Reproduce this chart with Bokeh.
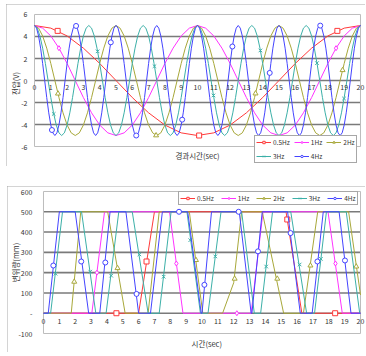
import numpy as np
from bokeh.plotting import figure
from bokeh.layouts import column
from bokeh.models import Range1d, Legend, LegendItem, ColumnDataSource, LabelSet
from bokeh.core.properties import value
from bokeh.embed import file_html
from bokeh.resources import INLINE

FONT = "Noto Sans CJK KR"

series_names = ["0.5Hz", "1Hz", "2Hz", "3Hz", "4Hz"]
colors = ["#ff3a3a", "#ff33ff", "#a8a83a", "#3cb0a8", "#4444ff"]
marker_types = ["square", "diamond", "triangle", "x", "circle"]

x_span = [0, 20]
x_ticks = list(range(0, 21))
x_tick_labels = [str(i) for i in x_ticks]

# ---------------- top chart: voltage (V) vs elapsed time ----------------
top_y_span = [-6, 6]
top_y_ticks = [-6, -4, -2, 0, 2, 4, 6]
top_y_labels = ["-6", "-4", "-2", "0", "2", "4", "6"]
top_grid = [-4, -2, 0, 2, 4]

t_05 = np.linspace(0, 20, 21)
v_05 = [5.0, 4.76, 4.05, 2.94, 1.55, 0.0, -1.55, -2.94, -4.05, -4.76,
        -5.0, -4.76, -4.05, -2.94, -1.55, 0.0, 1.55, 2.94, 4.05, 4.76, 5.0]

t_1 = np.linspace(0, 20, 41)
v_1 = [5.0, 4.76, 4.05, 2.94, 1.55, 0.0, -1.55, -2.94, -4.05, -4.76,
       -5.0, -4.76, -4.05, -2.94, -1.55, 0.0, 1.55, 2.94, 4.05, 4.76,
       5.0, 4.76, 4.05, 2.94, 1.55, 0.0, -1.55, -2.94, -4.05, -4.76,
       -5.0, -4.76, -4.05, -2.94, -1.55, 0.0, 1.55, 2.94, 4.05, 4.76, 5.0]

t_2 = np.linspace(0, 20, 81)
v_2 = [5.0, 4.76, 4.05, 2.94, 1.55, 0.0, -1.55, -2.94, -4.05, -4.76,
       -5.0, -4.76, -4.05, -2.94, -1.55, 0.0, 1.55, 2.94, 4.05, 4.76,
       5.0, 4.76, 4.05, 2.94, 1.55, 0.0, -1.55, -2.94, -4.05, -4.76,
       -5.0, -4.76, -4.05, -2.94, -1.55, 0.0, 1.55, 2.94, 4.05, 4.76,
       5.0, 4.76, 4.05, 2.94, 1.55, 0.0, -1.55, -2.94, -4.05, -4.76,
       -5.0, -4.76, -4.05, -2.94, -1.55, 0.0, 1.55, 2.94, 4.05, 4.76,
       5.0, 4.76, 4.05, 2.94, 1.55, 0.0, -1.55, -2.94, -4.05, -4.76,
       -5.0, -4.76, -4.05, -2.94, -1.55, 0.0, 1.55, 2.94, 4.05, 4.76, 5.0]

t_3 = np.linspace(0, 20, 121)
v_3 = [5.0, 4.76, 4.05, 2.94, 1.55, 0.0, -1.55, -2.94, -4.05, -4.76,
       -5.0, -4.76, -4.05, -2.94, -1.55, 0.0, 1.55, 2.94, 4.05, 4.76,
       5.0, 4.76, 4.05, 2.94, 1.55, 0.0, -1.55, -2.94, -4.05, -4.76,
       -5.0, -4.76, -4.05, -2.94, -1.55, 0.0, 1.55, 2.94, 4.05, 4.76,
       5.0, 4.76, 4.05, 2.94, 1.55, 0.0, -1.55, -2.94, -4.05, -4.76,
       -5.0, -4.76, -4.05, -2.94, -1.55, 0.0, 1.55, 2.94, 4.05, 4.76,
       5.0, 4.76, 4.05, 2.94, 1.55, 0.0, -1.55, -2.94, -4.05, -4.76,
       -5.0, -4.76, -4.05, -2.94, -1.55, 0.0, 1.55, 2.94, 4.05, 4.76,
       5.0, 4.76, 4.05, 2.94, 1.55, 0.0, -1.55, -2.94, -4.05, -4.76,
       -5.0, -4.76, -4.05, -2.94, -1.55, 0.0, 1.55, 2.94, 4.05, 4.76,
       5.0, 4.76, 4.05, 2.94, 1.55, 0.0, -1.55, -2.94, -4.05, -4.76,
       -5.0, -4.76, -4.05, -2.94, -1.55, 0.0, 1.55, 2.94, 4.05, 4.76, 5.0]

t_4 = np.linspace(0, 20, 161)
v_4 = [5.0, 4.76, 4.05, 2.94, 1.55, 0.0, -1.55, -2.94, -4.05, -4.76,
       -5.0, -4.76, -4.05, -2.94, -1.55, 0.0, 1.55, 2.94, 4.05, 4.76,
       5.0, 4.76, 4.05, 2.94, 1.55, 0.0, -1.55, -2.94, -4.05, -4.76,
       -5.0, -4.76, -4.05, -2.94, -1.55, 0.0, 1.55, 2.94, 4.05, 4.76,
       5.0, 4.76, 4.05, 2.94, 1.55, 0.0, -1.55, -2.94, -4.05, -4.76,
       -5.0, -4.76, -4.05, -2.94, -1.55, 0.0, 1.55, 2.94, 4.05, 4.76,
       5.0, 4.76, 4.05, 2.94, 1.55, 0.0, -1.55, -2.94, -4.05, -4.76,
       -5.0, -4.76, -4.05, -2.94, -1.55, 0.0, 1.55, 2.94, 4.05, 4.76,
       5.0, 4.76, 4.05, 2.94, 1.55, 0.0, -1.55, -2.94, -4.05, -4.76,
       -5.0, -4.76, -4.05, -2.94, -1.55, 0.0, 1.55, 2.94, 4.05, 4.76,
       5.0, 4.76, 4.05, 2.94, 1.55, 0.0, -1.55, -2.94, -4.05, -4.76,
       -5.0, -4.76, -4.05, -2.94, -1.55, 0.0, 1.55, 2.94, 4.05, 4.76,
       5.0, 4.76, 4.05, 2.94, 1.55, 0.0, -1.55, -2.94, -4.05, -4.76,
       -5.0, -4.76, -4.05, -2.94, -1.55, 0.0, 1.55, 2.94, 4.05, 4.76,
       5.0, 4.76, 4.05, 2.94, 1.55, 0.0, -1.55, -2.94, -4.05, -4.76,
       -5.0, -4.76, -4.05, -2.94, -1.55, 0.0, 1.55, 2.94, 4.05, 4.76, 5.0]

# top chart markers
tm_05 = [1.42, 10.1, 18.58]
vm_05 = [4.51, -5.0, 4.51]
tm_1 = [1.5, 18.5]
vm_1 = [2.94, 2.94]
tm_2 = [1.44, 7.46, 13.56, 18.9]
vm_2 = [-1.19, -4.99, -1.18, 0.94]
tm_3 = [1.18, 3.87, 7.36, 10.98, 13.86, 17.33, 18.99]
vm_3 = [-3.04, 2.65, 1.30, -1.36, 2.73, 1.58, -1.64]
tm_4 = [1.07, 2.55, 4.68, 6.24, 9.06, 12.14, 14.43, 17.53]
vm_4 = [-4.5, 4.96, 3.47, -5.0, -3.56, 3.09, 0.69, 4.99]

# ---------------- bottom chart: displacement (mm) vs time ----------------
bot_y_span = [-100, 600]
bot_y_ticks = [-100, 0, 100, 200, 300, 400, 500, 600]
bot_y_labels = ["-100", "-", "100", "200", "300", "400", "500", "600"]
bot_grid = [0, 100, 200, 300, 400, 500]

bt_05 = [0, 6.0, 7.0, 15.3, 16.3, 20]
bv_05 = [0, 0, 500, 500, 0, 0]
bt_1 = [0, 3.05, 3.85, 7.95, 8.8, 13.1, 13.85, 17.95, 18.85, 20]
bv_1 = [0, 0, 500, 500, 0, 0, 500, 500, 0, 0]
bt_2 = [0, 1.75, 2.35, 4.05, 5.15, 6.6, 7.3, 9.2, 10.05, 11.3, 12.0, 12.5,
        13.8, 15.15, 16.4, 17.3, 19.25, 20]
bv_2 = [0, 0, 500, 500, 0, 0, 500, 500, 0, 0, 150, 500,
        500, 0, 0, 500, 500, 90]
bt_3 = [0, 0.45, 1.2, 2.4, 3.3, 3.95, 4.75, 5.6, 6.6, 7.3, 8.05, 9.05, 9.9,
        10.38, 11.2, 12.5, 13.3, 13.7, 14.45, 15.6, 16.6, 17.1, 17.85, 19.1,
        19.95, 20]
bv_3 = [0, 0, 500, 500, 0, 0, 500, 500, 0, 0, 500, 500, 0,
        0, 500, 500, 0, 0, 500, 500, 0, 0, 500, 500, 0, 0]
bt_4 = [0, 0.3, 1.0, 2.0, 2.85, 3.55, 4.2, 5.2, 6.0, 6.75, 7.5, 9.1, 9.95,
        10.0, 10.6, 12.35, 13.1, 13.15, 13.8, 15.4, 16.2, 16.95, 17.65, 18.65,
        19.4, 20]
bv_4 = [0, 0, 500, 500, 0, 0, 500, 500, 0, 0, 500, 500, 0,
        0, 500, 500, 0, 0, 500, 500, 0, 0, 500, 500, 0, 0]

# bottom chart markers
btm_05 = [4.6, 6.5, 15.38, 18.4]
bvm_05 = [0, 255, 462, 0]
btm_1 = [3.37, 8.38, 12.2, 18.42]
bvm_1 = [200, 245, 0, 245]
btm_2 = [1.94, 4.67, 9.62, 12.06, 14.75, 16.84, 19.73]
bvm_2 = [155, 222, 262, 170, 170, 235, 230]
btm_3 = [0.76, 2.95, 4.27, 6.05, 7.58, 9.26, 10.84, 14.05, 16.16, 17.5]
bvm_3 = [195, 205, 185, 290, 180, 360, 280, 230, 240, 268]
btm_4 = [0.62, 2.38, 3.9, 5.87, 8.55, 10.15, 12.31, 13.53, 15.59, 17.28, 19.02]
bvm_4 = [235, 255, 250, 95, 500, 140, 500, 305, 395, 255, 260]

top_lines = [(t_05, v_05), (t_1, v_1), (t_2, v_2), (t_3, v_3), (t_4, v_4)]
top_marks = [(tm_05, vm_05), (tm_1, vm_1), (tm_2, vm_2), (tm_3, vm_3), (tm_4, vm_4)]
bot_lines = [(bt_05, bv_05), (bt_1, bv_1), (bt_2, bv_2), (bt_3, bv_3), (bt_4, bv_4)]
bot_marks = [(btm_05, bvm_05), (btm_1, bvm_1), (btm_2, bvm_2), (btm_3, bvm_3), (btm_4, bvm_4)]

TXT = "#333333"


def make_chart(cfg):
    p = figure(width=cfg["w"], height=cfg["h"], output_backend="svg",
               toolbar_location=None,
               x_range=Range1d(*cfg["xr"]), y_range=Range1d(*cfg["yr"]),
               min_border_left=0, min_border_right=0,
               min_border_top=0, min_border_bottom=0,
               background_fill_color="white", border_fill_color="white",
               margin=cfg["margin"],
               styles={"outline": "1.5px solid #a8a8a8", "outline-offset": "-1px"})
    p.outline_line_color = None
    p.grid.visible = False
    p.axis.visible = False

    ys = cfg["y_span"]
    grid = cfg["grid"]
    # horizontal grid lines and plot-area box
    p.segment(x0=[x_span[0]] * len(grid), x1=[x_span[1]] * len(grid), y0=grid, y1=grid,
              line_color="#7a7a7a", line_width=1.6)
    p.quad(left=[x_span[0]], right=[x_span[1]], bottom=[ys[0]], top=[ys[1]],
           fill_color=None, line_color="#bdbdbd", line_width=1)

    # y tick labels (left of the plot area)
    ysrc = ColumnDataSource(dict(x=[x_span[0]] * len(cfg["yticks"]), y=cfg["yticks"],
                                 text=cfg["ylabels"]))
    p.add_layout(LabelSet(x="x", y="y", text="text", source=ysrc, x_offset=cfg["ylab_off"],
                          text_align="right", text_baseline="middle",
                          text_font=value(FONT), text_font_size="7px", text_color=TXT))
    # x tick labels sitting on the zero line
    xsrc = ColumnDataSource(dict(x=x_ticks, y=[0] * len(x_ticks), text=x_tick_labels))
    p.add_layout(LabelSet(x="x", y="y", text="text", source=xsrc, y_offset=cfg["xlab_off"],
                          text_align="center", text_baseline="top",
                          text_font=value(FONT), text_font_size="7px", text_color=TXT))
    # axis titles
    p.text(x=[cfg["xtitle_pos"][0]], y=[cfg["xtitle_pos"][1]], text=[cfg["xlabel"]],
           text_align="center", text_baseline="middle", text_font=value(FONT),
           text_font_size="7.5px", text_color=TXT)
    p.text(x=[cfg["ytitle_pos"][0]], y=[cfg["ytitle_pos"][1]], text=[cfg["ylabel"]],
           angle=np.pi / 2, text_align="center", text_baseline="middle",
           text_font=value(FONT), text_font_size="7.5px", text_color=TXT)

    items = []
    for name, col, mk, (lt, lv), (mt, mv) in zip(series_names, colors, marker_types,
                                                 cfg["lines"], cfg["marks"]):
        r1 = p.line(lt, lv, line_color=col, line_width=1)
        r2 = p.scatter(mt, mv, marker=mk, size=5, line_color=col, fill_color="white",
                       line_width=1)
        items.append(LegendItem(label=name, renderers=[r1, r2]))

    lg = Legend(items=items, location=cfg["legend_loc"], orientation="horizontal",
                ncols=cfg["legend_cols"])
    lg.label_text_font = FONT
    lg.label_text_font_size = "6.5px"
    lg.label_text_color = TXT
    lg.label_height = 6
    lg.label_width = 10
    lg.label_standoff = 2
    lg.glyph_width = 15
    lg.glyph_height = 6
    lg.spacing = cfg["legend_spacing"]
    lg.padding = 1
    lg.margin = 0
    lg.border_line_color = "#505050"
    lg.border_line_width = 1
    lg.background_fill_color = "white"
    lg.background_fill_alpha = 1
    p.add_layout(lg)
    return p


# top chart: element spans (6,4)-(365,166); plot area x 34..360, y 14..146
p1 = make_chart(dict(
    w=359, h=162, margin=(4, 1, 4, 6),
    xr=(-1.718, 20.307), yr=(-7.818, 6.909), y_span=top_y_span,
    yticks=top_y_ticks, ylabels=top_y_labels, grid=top_grid,
    ylabel="전압(V)", xlabel="경과시간(sec)",
    xtitle_pos=(10, -6.82), ytitle_pos=(-1.17, -0.27),
    ylab_off=-7, xlab_off=-3,
    lines=top_lines, marks=top_marks, legend_loc=(248, 3), legend_cols=3,
    legend_spacing=4))

# bottom chart: element spans (7,186)-(365,352); plot area x 43..360, y 191..333
p2 = make_chart(dict(
    w=358, h=166, margin=(16, 1, 4, 7),
    xr=(-2.271, 20.315), yr=(-193.6, 624.6), y_span=bot_y_span,
    yticks=bot_y_ticks, ylabels=bot_y_labels, grid=bot_grid,
    ylabel="변위량(mm)", xlabel="시간(sec)",
    xtitle_pos=(10.3, -149), ytitle_pos=(-1.77, 250),
    ylab_off=-11, xlab_off=-5,
    lines=bot_lines, marks=bot_marks, legend_loc=(171, 147), legend_cols=5,
    legend_spacing=7))

layout = column(p1, p2, spacing=0)
open("out.html", "w").write(file_html(layout, INLINE))
